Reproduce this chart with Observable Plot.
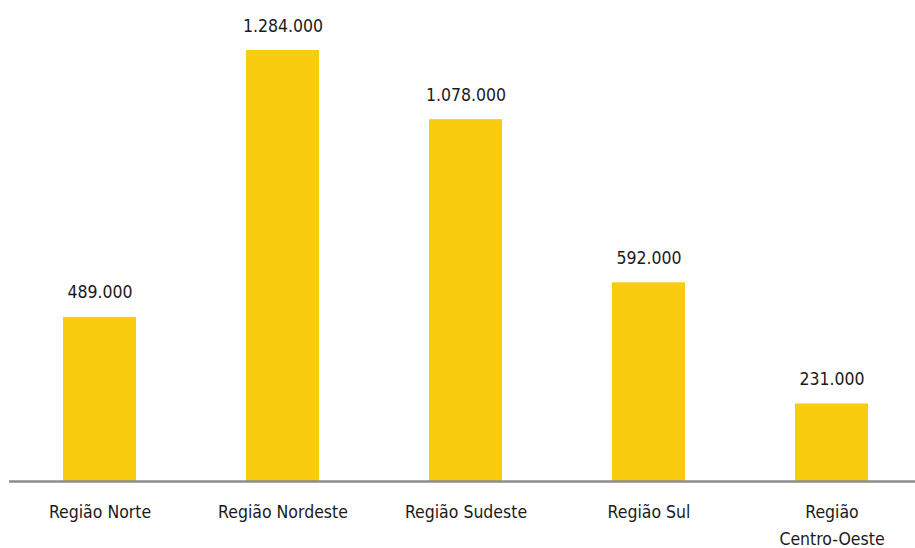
<!DOCTYPE html>
<html>
<head>
<meta charset="utf-8">
<script src="https://cdn.jsdelivr.net/npm/d3@7"></script>
<script src="https://cdn.jsdelivr.net/npm/@observablehq/plot@0.6"></script>
<style>
  html, body { margin: 0; padding: 0; background: #fff; }
  #chart { width: 915px; height: 548px; }
  #chart text { font-stretch: condensed; }
</style>
</head>
<body>
<div id="chart"></div>
<script>
const regions = ["Região Norte", "Região Nordeste", "Região Sudeste", "Região Sul", "Região\nCentro-Oeste"];
const values = [489000, 1284000, 1078000, 592000, 231000];

const data = regions.map((r, i) => ({region: r, value: values[i]}));
const fmt = v => d3.format(",")(v).replace(/,/g, ".");

const font = "'DejaVu Sans Condensed', 'Liberation Sans Narrow', 'DejaVu Sans', sans-serif";

const chart = Plot.plot({
  width: 915,
  height: 548,
  marginLeft: 9,
  marginRight: 0,
  marginTop: 0,
  marginBottom: 0,
  style: {fontFamily: font, background: "#fff"},
  x: {domain: regions, range: [8.5, 923.5], paddingInner: 0.6, paddingOuter: 0.3, axis: null},
  y: {domain: [0, 1284000], range: [481, 50], axis: null},
  marks: [
    Plot.barY(data, {x: "region", y: "value", fill: "#FACC0F"}),
    Plot.ruleY([0], {stroke: "#8c8c8c", strokeWidth: 2.5}),
    Plot.text(data, {x: "region", y: "value", text: d => fmt(d.value), lineAnchor: "bottom", dy: -19, fontSize: 17.5, fill: "#1a1a1a"}),
    Plot.text(data, {x: "region", y: 0, text: "region", lineAnchor: "top", dy: 18, fontSize: 17.5, lineHeight: 1.52, fill: "#1a1a1a"})
  ]
});
document.getElementById("chart").appendChild(chart);
</script>
</body>
</html>
